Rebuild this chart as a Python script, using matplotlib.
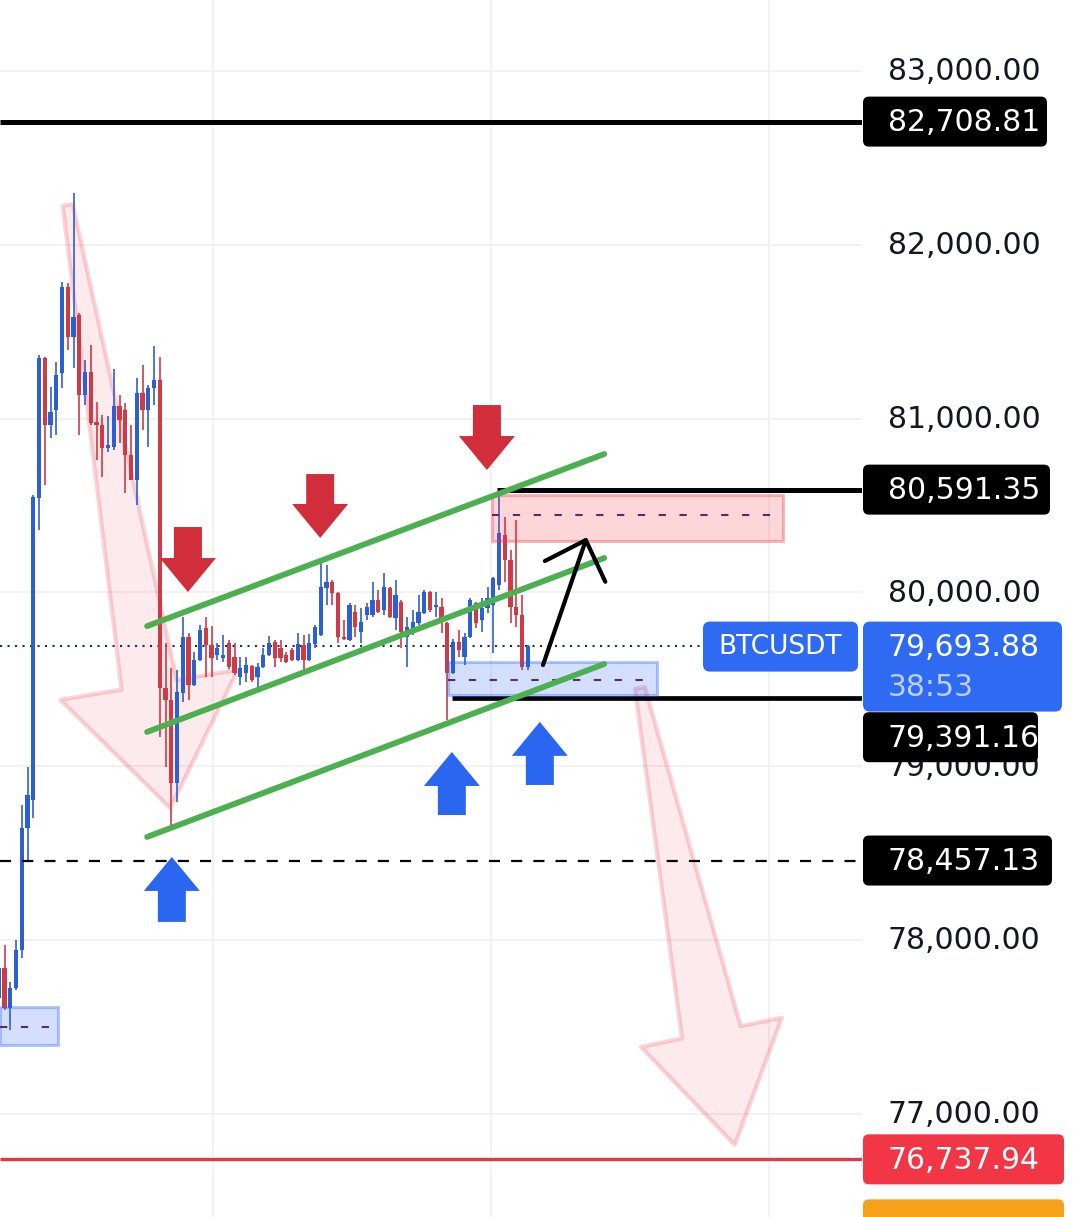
import numpy as np
import matplotlib.pyplot as plt
from matplotlib.patches import Polygon, Rectangle, FancyBboxPatch

W, H = 1080, 1217
PLOT_W = 862

# ---- candles (index 0 sits ~5px from the left edge, one is cut off) ----
candle_idx = np.arange(-1, 92)
opens = [77666, 77839, 77609, 77724, 77942, 78644, 78806, 80543, 81349, 80963,
         81050, 81262, 81757, 81470, 81596, 81136, 81268, 80980, 80963, 80831,
         80837, 81073, 81050, 80791, 80647, 81147, 81050, 81176, 81222, 79450,
         79381, 78903, 79421, 79743, 79467, 79611, 79795, 79697, 79640, 79623,
         79709, 79628, 79513, 79536, 79577, 79513, 79571, 79640, 79715, 79680,
         79640, 79669, 79611, 79697, 79611, 79703, 79755, 80025, 80060, 79997,
         79743, 79726, 79887, 79772, 79870, 79870, 79956, 79899, 80025, 79853,
         79945, 79743, 79784, 79824, 79881, 80002, 79916, 79916, 79824, 79536,
         79715, 79628, 79743, 79939, 79841, 79910, 79928, 80043, 80330, 80186,
         79916, 79870, 79571]
highs = [78058, 77971, 77758, 78000, 78777, 78995, 80560, 81366, 81354, 81182,
         81326, 81786, 81780, 82298, 81608, 81337, 81424, 81096, 81021, 81015,
         81285, 81136, 81090, 80963, 81234, 81308, 81193, 81418, 81354, 79709,
         79565, 79554, 79858, 79766, 79657, 79812, 79858, 79806, 79709, 79755,
         79726, 79709, 79628, 79628, 79582, 79594, 79680, 79749, 79726, 79726,
         79657, 79680, 79766, 79755, 79761, 79812, 80169, 80158, 80071, 80002,
         79841, 79939, 79928, 79910, 79939, 80060, 80014, 80112, 80031, 80071,
         79956, 79858, 79899, 79985, 80014, 80008, 80002, 79968, 79830, 79732,
         79784, 79766, 79968, 79945, 79968, 80031, 80089, 80572, 80434, 80244,
         80417, 79985, 79700]
lows = [77655, 77600, 77482, 77712, 77896, 78449, 78702, 80359, 80618, 80888,
        80906, 81176, 81395, 81291, 80906, 81078, 80963, 80762, 80664, 80808,
        80819, 80860, 80572, 80647, 80503, 80934, 80837, 81078, 79168, 78995,
        78662, 78794, 79369, 79381, 79460, 79605, 79513, 79513, 79611, 79600,
        79560, 79525, 79467, 79485, 79485, 79456, 79565, 79635, 79571, 79600,
        79594, 79605, 79605, 79554, 79605, 79680, 79750, 79928, 79928, 79709,
        79726, 79720, 79743, 79709, 79841, 79860, 79881, 79870, 79853, 79784,
        79680, 79571, 79755, 79812, 79876, 79887, 79858, 79766, 79266, 79530,
        79628, 79582, 79738, 79795, 79772, 79881, 79651, 80014, 80060, 79824,
        79801, 79554, 79554]
closes = [77839, 77609, 77724, 77942, 78644, 78834, 80549, 81349, 80963, 81038,
          81251, 81757, 81470, 81585, 81136, 81268, 80975, 80963, 80831, 80848,
          81073, 80992, 80791, 80647, 81147, 81050, 81176, 81222, 79450, 79381,
          78903, 79427, 79743, 79467, 79611, 79784, 79697, 79623, 79680, 79640,
          79570, 79536, 79565, 79582, 79496, 79571, 79640, 79709, 79623, 79623,
          79600, 79611, 79703, 79611, 79709, 79801, 80031, 80060, 79997, 79743,
          79730, 79928, 79801, 79830, 79916, 79956, 79887, 80031, 79858, 79985,
          79772, 79801, 79830, 79887, 80002, 79899, 79928, 79841, 79536, 79715,
          79669, 79743, 79956, 79824, 79910, 79968, 80083, 80342, 80186, 79916,
          79870, 79571, 79694]

# ---- price axis / levels ----
price_ticks = [83000, 82000, 81000, 80000, 79000, 78000, 77000]
grid_idx = [36.3, 84.6, 133.0]
top_level = 82708.81
supply_level = 80591.35
last_price = 79693.88
support_level = 79391.16
dashed_level = 78457.13
target_level = 76737.94
countdown = "38:53"
symbol = "BTCUSDT"
supply_line_start = 85.65
support_line_start = 77.8
price_line_end = 120.96

# ---- drawings ----
chan_x = [24.8, 104.3]
chan_upper = [79806, 80796]
chan_mid = [79197, 80198]
chan_lower = [78593, 79588]

supply_zone = dict(x0=84.8, x1=135.4, lo=80296, hi=80560, mid=80445, mid_end=134.2)
demand_zone = dict(x0=77.1, x1=113.5, lo=79410, hi=79600, mid=79496, mid_end=112.9)
old_zone = dict(x0=-0.8, x1=9.3, lo=77396, hi=77614, mid=77500, mid_end=9.3)

red_arrow_x = [31.9, 54.9, 83.9]
red_arrow_top = [80376, 80681, 81078]
red_arrow_tip = [80002, 80313, 80704]
blue_arrow_x = [29.1, 77.8, 93.1]
blue_arrow_bottom = [78104, 78719, 78892]
blue_arrow_tip = [78478, 79082, 79255]

big_arrow_tail = [(11.0, 82229), (110.5, 79450)]
big_arrow_tip = [(28.8, 78759), (127.0, 76821)]

hand_tail = (93.65, 79582)
hand_tip = (101.1, 80301)

BLUE = "#2c5fd6"
RED = "#d03a46"

fig = plt.figure(figsize=(W / 100, H / 100), dpi=100)
ax = fig.add_axes([0, 0, PLOT_W / W, 1])
ax.set_xlim(-0.783, 149.13)
ax.set_ylim(76406.2, 83408.5)
for s in ax.spines.values():
    s.set_visible(False)
ax.set_yticks(price_ticks)
ax.set_xticks(grid_idx)
ax.tick_params(length=0, labelbottom=False, labelleft=False)
ax.grid(color="#f1f1f1", lw=1.3)
ax.set_axisbelow(True)


def to_px(x, y):
    d = ax.transData.transform((x, y))
    return np.array([d[0], H - d[1]])


def to_data(pts):
    pts = np.asarray(pts, float)
    disp = np.column_stack([pts[:, 0], H - pts[:, 1]])
    return ax.transData.inverted().transform(disp)


# big faded tapered arrows (head length, head half width, shaft half width in px)
for tail, tip, (hl, hw, sw) in zip(big_arrow_tail, big_arrow_tip, [(125, 90, 28), (115, 72, 30)]):
    T = to_px(*tail)
    P = to_px(*tip)
    d = (P - T) / np.linalg.norm(P - T)
    n = np.array([-d[1], d[0]])
    B = P - d * hl
    pts = [T - n * 5, B - n * sw, B - n * hw, P, B + n * hw, B + n * sw, T + n * 5]
    ax.add_patch(Polygon(to_data(pts), closed=True, fc=(0.95, 0.21, 0.27, 0.10),
                         ec=(0.95, 0.21, 0.27, 0.22), lw=3, joinstyle="round", zorder=1))

# candles
o = np.array(opens, float)
c = np.array(closes, float)
up = c >= o
cols = np.where(up, BLUE, RED)
ax.vlines(candle_idx, lows, highs, colors=cols, lw=1.2, zorder=3)
body = c - o
body = np.where(np.abs(body) < 8, np.where(up, 8, -8), body)
ax.bar(candle_idx, body, bottom=o, width=0.7, color=cols, zorder=3)

# horizontal levels
x0, x1 = ax.get_xlim()
ax.hlines(top_level, x0, x1, color="black", lw=3.6, zorder=4)
ax.hlines(supply_level, supply_line_start, x1, color="black", lw=3.6, zorder=4)
ax.hlines(support_level, support_line_start, x1, color="black", lw=3.4, zorder=4)
ax.hlines(dashed_level, x0, x1, color="black", lw=1.6, linestyles=(0, (5, 5)), zorder=4)
ax.hlines(target_level, x0, x1, color="#dc3a4a", lw=2.4, zorder=4)
ax.hlines(last_price, x0, price_line_end, color="#1f2a5c", lw=1.5,
          linestyles=(0, (1, 2.6)), zorder=2)

# zones
for z, rgb in [(supply_zone, (0.95, 0.21, 0.27)), (demand_zone, (0.16, 0.38, 1.0)),
               (old_zone, (0.16, 0.38, 1.0))]:
    ax.add_patch(Rectangle((z["x0"], z["lo"]), z["x1"] - z["x0"], z["hi"] - z["lo"],
                           fc=rgb + (0.2,), ec=rgb + (0.35,), lw=2.2, zorder=4))
    ax.hlines(z["mid"], z["x0"], z["mid_end"], color="#5a2d62", lw=1.5,
              linestyles=(0, (3.5, 6.5)), zorder=4)

# channel
for ys in (chan_upper, chan_mid, chan_lower):
    ax.plot(chan_x, ys, color="#4caf50", lw=4.2, solid_capstyle="round", zorder=5)


def block_arrow(cx, base, tip, color):
    b = to_px(cx, base)
    t = to_px(cx, tip)
    s = np.sign(t[1] - b[1])
    hy = t[1] - s * 34
    X = b[0]
    pts = [(X - 14, b[1]), (X - 14, hy), (X - 28, hy), (X, t[1]),
           (X + 28, hy), (X + 14, hy), (X + 14, b[1])]
    ax.add_patch(Polygon(to_data(pts), closed=True, fc=color, ec="none", zorder=6))


for cx, tp, tip in zip(red_arrow_x, red_arrow_top, red_arrow_tip):
    block_arrow(cx, tp, tip, "#d12d3a")
for cx, bt, tip in zip(blue_arrow_x, blue_arrow_bottom, blue_arrow_tip):
    block_arrow(cx, bt, tip, "#2b66f0")

# hand drawn arrow
Tt = to_px(*hand_tail)
Pp = to_px(*hand_tip)
back = (Tt - Pp) / np.linalg.norm(Tt - Pp)
arms = []
for ang in (np.radians(44), -np.radians(44)):
    rot = np.array([[np.cos(ang), -np.sin(ang)], [np.sin(ang), np.cos(ang)]])
    arms.append(Pp + rot @ back * 46)
path = to_data([Tt, Pp])
ax.plot(path[:, 0], path[:, 1], color="black", lw=3, solid_capstyle="round", zorder=6)
head = to_data([arms[0], Pp, arms[1]])
ax.plot(head[:, 0], head[:, 1], color="black", lw=3, solid_capstyle="round",
        solid_joinstyle="round", zorder=6)

# ---- overlay for price scale labels ----
ov = fig.add_axes([0, 0, 1, 1], zorder=5)
ov.set_xlim(0, W)
ov.set_ylim(H, 0)
ov.axis("off")
ov.patch.set_alpha(0)


def ypx(p):
    return to_px(0, p)[1]


FS = 21.5
for p in price_ticks:
    ov.text(888, ypx(p) + 1, f"{p:,.2f}", fontsize=FS, color="#131722",
            va="center", ha="left", zorder=2)


def price_box(p, color, width, shift=0, height=50):
    y = ypx(p) + shift
    ov.add_patch(FancyBboxPatch((863, y - height / 2), width, height,
                                boxstyle="round,pad=0,rounding_size=6",
                                fc=color, ec="none", zorder=3))
    ov.text(888, y + 1, f"{p:,.2f}", fontsize=FS, color="white",
            va="center", ha="left", zorder=4)


price_box(top_level, "black", 184)
price_box(supply_level, "black", 187)
price_box(support_level, "black", 175, shift=39)
price_box(dashed_level, "black", 189)
price_box(target_level, "#f23645", 201)

# live price box with countdown
yp = ypx(last_price)
ov.add_patch(FancyBboxPatch((863, yp - 24), 199, 90, boxstyle="round,pad=0,rounding_size=7",
                            fc="#2f6bf2", ec="none", zorder=5))
ov.text(888, yp + 2, f"{last_price:,.2f}", fontsize=FS, color="white",
        va="center", ha="left", zorder=6)
ov.text(888, yp + 42, countdown, fontsize=FS, color="#bcd0fb",
        va="center", ha="left", zorder=6)
ov.add_patch(FancyBboxPatch((703, yp - 24), 155, 50, boxstyle="round,pad=0,rounding_size=7",
                            fc="#2f6bf2", ec="none", zorder=5))
ov.text(780, yp + 1, symbol, fontsize=19, color="white", va="center", ha="center", zorder=6)

# partially visible orange label at the bottom
ov.add_patch(FancyBboxPatch((863, ypx(target_level) + 40), 201, 50,
                            boxstyle="round,pad=0,rounding_size=6",
                            fc="#f7a11a", ec="none", zorder=3))

fig.savefig("out.png", dpi=100)
